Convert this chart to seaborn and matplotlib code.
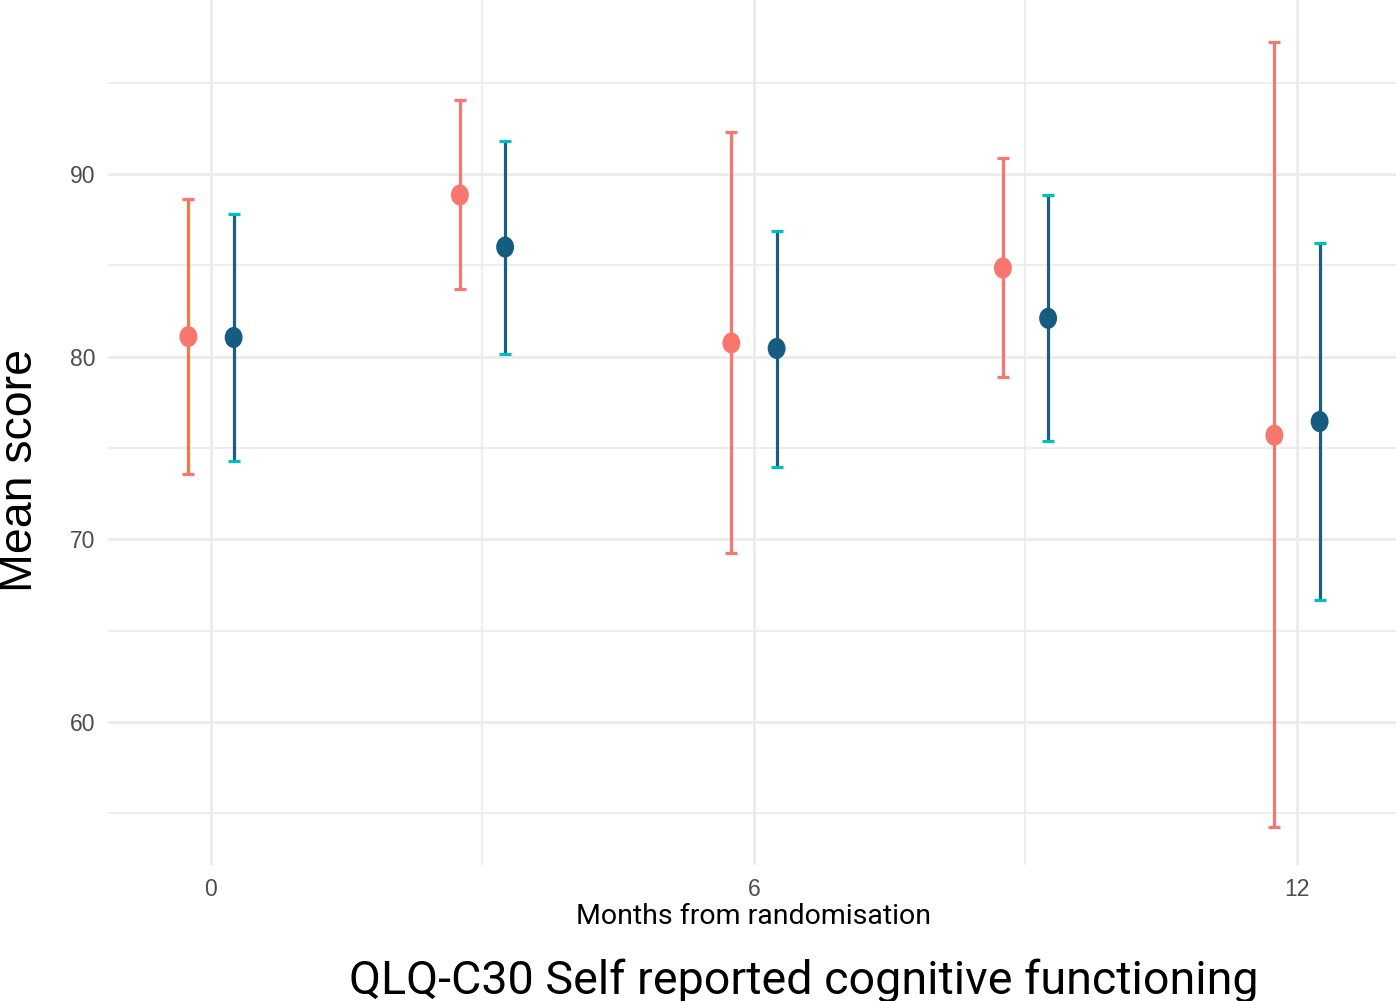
import numpy as np
import pandas as pd
import matplotlib
matplotlib.use("Agg")
import matplotlib.pyplot as plt
import seaborn as sns
from matplotlib.path import Path
from matplotlib.transforms import Affine2D

# ---- data ----
months = [0, 3, 6, 9, 12]
arms = ["Arm A", "Arm B"]
mean_a = [81.1, 88.85, 80.75, 84.85, 75.7]
lower_a = [73.6, 83.7, 69.25, 78.9, 54.25]
upper_a = [88.65, 94.05, 92.3, 90.9, 97.2]
mean_b = [81.05, 86.0, 80.45, 82.1, 76.45]
lower_b = [74.3, 80.15, 73.95, 75.4, 66.7]
upper_b = [87.8, 91.8, 86.9, 88.85, 86.2]
y_ticks = [60, 70, 80, 90]
x_ticks = [0, 6, 12]
title = "QLQ-C30 Self reported cognitive functioning"
xlabel = "Months from randomisation"
ylabel = "Mean score"

dodge = 0.25
df = pd.DataFrame({
    "month": months * 2,
    "arm": [arms[0]] * 5 + [arms[1]] * 5,
    "mean": mean_a + mean_b,
    "lower": lower_a + lower_b,
    "upper": upper_a + upper_b,
})
df["x"] = df["month"] + np.where(df["arm"] == arms[0], -dodge, dodge)

sns.set_theme(style="white")
plt.rcParams['font.family'] = ['Liberation Sans', 'DejaVu Sans']

fig = plt.figure(figsize=(13.96, 10.01), dpi=100)
ax = fig.add_axes([108 / 1396, 136 / 1001, 1 - 108 / 1396, 865 / 1001])

ax.set_xlim(-1.138, 13.094)
ax.set_ylim(52.18, 99.52)

grid_c = "#EBEBEB"
for v in [55, 65, 75, 85, 95]:
    ax.axhline(v, color=grid_c, lw=1.2, zorder=0)
for v in y_ticks:
    ax.axhline(v, color=grid_c, lw=2.0, zorder=0)
for v in [3, 9]:
    ax.axvline(v, color=grid_c, lw=1.2, zorder=0)
for v in x_ticks:
    ax.axvline(v, color=grid_c, lw=2.0, zorder=0)

salmon = "#F8766D"
orange = "#F27A3B"
navy_line = "#1B5E7E"
navy_pt = "#155C80"
cyan = "#00BFC4"

for arm, line_cols, cap_col in [
    (arms[0], [orange, salmon, salmon, salmon, salmon], salmon),
    (arms[1], [navy_line] * 5, cyan),
]:
    sub = df[df["arm"] == arm].reset_index(drop=True)
    for i, r in sub.iterrows():
        _, caps, bars = ax.errorbar(
            [r["x"]], [r["mean"]],
            yerr=[[r["mean"] - r["lower"]], [r["upper"] - r["mean"]]],
            fmt="none", ecolor=line_cols[i], elinewidth=2.3,
            capsize=4.2, capthick=2.3, zorder=2)
        for c in caps:
            c.set_markeredgecolor(cap_col)
            c.set_color(cap_col)

ellipse = Path.unit_circle().transformed(Affine2D().scale(0.85, 1.0))
sns.scatterplot(data=df, x="x", y="mean", hue="arm",
                palette={arms[0]: salmon, arms[1]: navy_pt},
                marker=ellipse, s=230, linewidth=0, legend=False,
                ax=ax, zorder=3)

ax.set_xticks(x_ticks)
ax.set_yticks(y_ticks)
ax.set_xticklabels([str(v) for v in x_ticks])
ax.set_yticklabels([str(v) for v in y_ticks])
ax.tick_params(axis="both", length=0, labelsize=16.5, colors="#4D4D4D", pad=9)
ax.set_xlabel("")
ax.set_ylabel("")
for s in ax.spines.values():
    s.set_visible(False)

narrow = ['Roboto', 'DejaVu Sans']
fig.text(754 / 1396, 1 - 917 / 1001, xlabel, ha="center", va="center",
         fontsize=20.5, color="black", family=narrow)
fig.text(20 / 1396, 1 - 471 / 1001, ylabel, ha="center", va="center",
         rotation=90, fontsize=33.5, color="black")
fig.text(804 / 1396, 1 - 981 / 1001, title, ha="center", va="center",
         fontsize=33.6, color="black", family=narrow)

fig.savefig("out.png", dpi=100)
